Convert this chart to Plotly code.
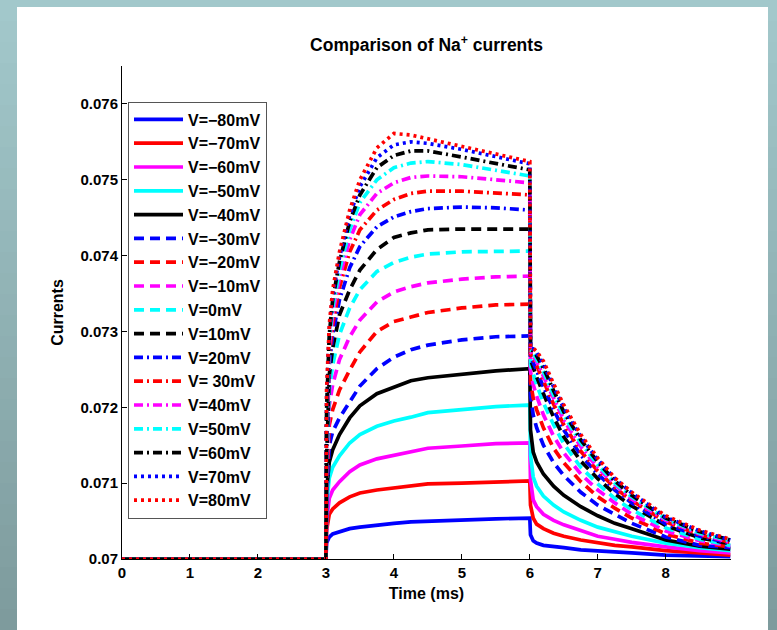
import plotly.graph_objects as go

# ---------------- data ----------------
time_ms = [0, 3.0, 3.01, 3.05, 3.1, 3.2, 3.35, 3.5, 3.75, 4.0, 4.25, 4.5, 5.0, 5.5, 6.0,
           6.01, 6.05, 6.1, 6.2, 6.35, 6.5, 6.75, 7.0, 7.25, 7.5, 8.0, 8.5, 8.95]

labels = ["V=\u221280mV", "V=\u221270mV", "V=\u221260mV", "V=\u221250mV", "V=\u221240mV",
          "V=\u221230mV", "V=\u221220mV", "V=\u221210mV", "V=0mV", "V=10mV",
          "V=20mV", "V= 30mV", "V=40mV", "V=50mV", "V=60mV", "V=70mV", "V=80mV"]

i_m80 = [0.07, 0.07, 0.07021, 0.07029, 0.07033, 0.07036, 0.0704, 0.07042, 0.07045, 0.07047, 0.07049, 0.0705, 0.07051, 0.07053, 0.07054,
         0.07032, 0.07024, 0.07021, 0.07018, 0.07016, 0.07015, 0.07012, 0.07011, 0.07009, 0.07008, 0.07005, 0.07004, 0.07003]
i_m70 = [0.07, 0.07, 0.07038, 0.07059, 0.07066, 0.07074, 0.07082, 0.07087, 0.07091, 0.07094, 0.07096, 0.07099, 0.071, 0.07102, 0.07103,
         0.07071, 0.07054, 0.07046, 0.0704, 0.07034, 0.0703, 0.07025, 0.07021, 0.07018, 0.07016, 0.07011, 0.07008, 0.07005]
i_m60 = [0.07, 0.07, 0.07051, 0.0708, 0.07091, 0.07102, 0.07115, 0.07124, 0.07132, 0.07137, 0.07142, 0.07146, 0.07149, 0.07152, 0.07153,
         0.07104, 0.07078, 0.07069, 0.07059, 0.07051, 0.07045, 0.07037, 0.0703, 0.07026, 0.07022, 0.07016, 0.07011, 0.07008]
i_m50 = [0.07, 0.07, 0.07071, 0.07107, 0.07121, 0.07136, 0.07153, 0.07164, 0.07175, 0.07182, 0.07187, 0.07193, 0.07197, 0.07201, 0.07203,
         0.07137, 0.07108, 0.07096, 0.07083, 0.07071, 0.07062, 0.07051, 0.07042, 0.07036, 0.0703, 0.07021, 0.07015, 0.07011]
i_m40 = [0.07, 0.07, 0.07091, 0.07128, 0.07144, 0.07164, 0.07186, 0.07202, 0.07218, 0.07227, 0.07235, 0.07239, 0.07244, 0.07248, 0.07251,
         0.0717, 0.07141, 0.07128, 0.07112, 0.07096, 0.07084, 0.07069, 0.07057, 0.07047, 0.0704, 0.07025, 0.07017, 0.07013]
i_m30 = [0.07, 0.07, 0.07078, 0.0715, 0.07168, 0.07186, 0.07207, 0.07228, 0.07251, 0.07266, 0.07276, 0.07282, 0.07289, 0.07293, 0.07294,
         0.07216, 0.0719, 0.07173, 0.0715, 0.07127, 0.0711, 0.07088, 0.07071, 0.07059, 0.07047, 0.07029, 0.07018, 0.07015]
i_m20 = [0.07, 0.07, 0.07091, 0.07177, 0.07197, 0.07223, 0.07249, 0.07273, 0.073, 0.07313, 0.07319, 0.07325, 0.07331, 0.07335, 0.07336,
         0.07234, 0.07212, 0.07197, 0.07173, 0.07146, 0.07127, 0.07102, 0.07082, 0.07067, 0.07054, 0.07033, 0.07021, 0.07016]
i_m10 = [0.07, 0.07, 0.07104, 0.07203, 0.0723, 0.07263, 0.07293, 0.07315, 0.07339, 0.07352, 0.07359, 0.07364, 0.07369, 0.07372, 0.07373,
         0.07247, 0.0723, 0.07215, 0.0719, 0.07162, 0.0714, 0.07112, 0.07091, 0.07074, 0.07059, 0.07037, 0.07024, 0.07017]
i_0 = [0.07, 0.07, 0.07117, 0.07223, 0.07256, 0.07296, 0.07331, 0.07355, 0.07379, 0.07391, 0.07398, 0.07402, 0.07405, 0.07406, 0.07406,
       0.07256, 0.07243, 0.0723, 0.07206, 0.07177, 0.07152, 0.07121, 0.07099, 0.0708, 0.07065, 0.07041, 0.07026, 0.07018]
i_10 = [0.07, 0.07, 0.07131, 0.07243, 0.07278, 0.07322, 0.07355, 0.07381, 0.07408, 0.07424, 0.0743, 0.07434, 0.07435, 0.07435, 0.07435,
        0.07263, 0.07252, 0.0724, 0.07218, 0.07187, 0.07161, 0.07129, 0.07106, 0.07086, 0.0707, 0.07044, 0.07028, 0.0702]
i_20 = [0.07, 0.07, 0.07144, 0.07256, 0.07296, 0.07342, 0.07384, 0.07412, 0.07438, 0.07451, 0.07458, 0.07462, 0.07464, 0.07463, 0.0746,
        0.07266, 0.07259, 0.07248, 0.07227, 0.07197, 0.0717, 0.07137, 0.07112, 0.07091, 0.07074, 0.07046, 0.0703, 0.07021]
i_30 = [0.07, 0.07, 0.07157, 0.07269, 0.07309, 0.07358, 0.07405, 0.07434, 0.0746, 0.07474, 0.07482, 0.07485, 0.07485, 0.07483, 0.0748,
        0.0727, 0.07264, 0.07255, 0.07235, 0.07204, 0.07177, 0.07142, 0.07116, 0.07094, 0.07077, 0.07049, 0.07032, 0.07022]
i_40 = [0.07, 0.07, 0.0717, 0.07282, 0.07322, 0.07371, 0.07421, 0.07454, 0.07482, 0.07496, 0.07503, 0.07505, 0.07504, 0.075, 0.07496,
        0.07273, 0.07268, 0.0726, 0.07241, 0.07211, 0.07183, 0.07148, 0.0712, 0.07098, 0.07079, 0.07051, 0.07033, 0.07022]
i_50 = [0.07, 0.07, 0.07183, 0.07289, 0.07331, 0.07381, 0.07434, 0.0747, 0.075, 0.07516, 0.07522, 0.07524, 0.0752, 0.07513, 0.07505,
        0.07276, 0.07272, 0.07264, 0.07247, 0.07216, 0.07189, 0.07153, 0.07124, 0.071, 0.07082, 0.07053, 0.07034, 0.07024]
i_60 = [0.07, 0.07, 0.07197, 0.07296, 0.07342, 0.07392, 0.07445, 0.0748, 0.07516, 0.07532, 0.07538, 0.07538, 0.0753, 0.07522, 0.07513,
        0.07277, 0.07274, 0.07268, 0.07252, 0.07222, 0.07194, 0.07157, 0.07128, 0.07103, 0.07084, 0.07054, 0.07036, 0.07025]
i_70 = [0.07, 0.07, 0.0721, 0.07302, 0.07348, 0.07398, 0.07453, 0.07491, 0.07529, 0.07546, 0.0755, 0.07548, 0.0754, 0.0753, 0.07521,
        0.07278, 0.07277, 0.07272, 0.07257, 0.07227, 0.07199, 0.07161, 0.07131, 0.07106, 0.07087, 0.07055, 0.07037, 0.07025]
i_80 = [0.07, 0.07, 0.07223, 0.07309, 0.07355, 0.07405, 0.0746, 0.075, 0.07542, 0.07561, 0.07559, 0.07554, 0.07544, 0.07533, 0.07524,
        0.0728, 0.07278, 0.07274, 0.07261, 0.07231, 0.07203, 0.07164, 0.07133, 0.07107, 0.07088, 0.07057, 0.07038, 0.07026]

series = [i_m80, i_m70, i_m60, i_m50, i_m40, i_m30, i_m20, i_m10, i_0, i_10,
          i_20, i_30, i_40, i_50, i_60, i_70, i_80]

x_ticks = [0, 1, 2, 3, 4, 5, 6, 7, 8]
y_ticks = [0.070, 0.071, 0.072, 0.073, 0.074, 0.075, 0.076]
y_ticktext = ["0.07", "0.071", "0.072", "0.073", "0.074", "0.075", "0.076"]

# ---------------- styling ----------------
W, H = 777, 630
L, R, T, B = 122, 46, 66, 71
PW, PH = W - L - R, H - T - B

def px2x(px):
    return (px - L) / PW

def py2y(py):
    return (H - B - py) / PH

palette = ["#0000ff", "#ff0000", "#ff00ff", "#00ffff", "#000000"]
dash_styles = ["solid"] * 5 + ["10px,6px"] * 5 + ["9px,4px,2px,4px"] * 5 + ["3px,4px"] * 2

FONT = "Liberation Sans, Arial, Helvetica, sans-serif"

fig = go.Figure()
for k, (name, vals) in enumerate(zip(labels, series)):
    fig.add_trace(go.Scatter(
        x=time_ms, y=vals, mode="lines", name=name,
        line=dict(color=palette[k % 5], width=3.7, dash=dash_styles[k]),
    ))

# background: teal gradient frame + white panel
shapes = []
top = (162, 200, 203)
bot = (126, 155, 157)
nb = 30
for i in range(nb):
    f = i / (nb - 1)
    c = tuple(int(round(top[j] + (bot[j] - top[j]) * f)) for j in range(3))
    y0 = H * i / nb
    y1 = H * (i + 1) / nb + 1
    shapes.append(dict(type="rect", xref="paper", yref="paper", layer="below",
                       x0=px2x(0), x1=px2x(W), y0=py2y(y1), y1=py2y(y0),
                       fillcolor="rgb(%d,%d,%d)" % c, line=dict(width=0)))
shapes.append(dict(type="rect", xref="paper", yref="paper", layer="below",
                   x0=px2x(17), x1=px2x(768), y0=py2y(H + 2), y1=py2y(7),
                   fillcolor="white", line=dict(width=0)))

fig.update_layout(
    width=W, height=H,
    margin=dict(l=L, r=R, t=T, b=B, pad=0),
    paper_bgcolor="rgb(%d,%d,%d)" % top,
    plot_bgcolor="rgba(0,0,0,0)",
    shapes=shapes,
    font=dict(family=FONT, color="black"),
    title=dict(text="Comparison of Na<sup>+</sup> currents",
               font=dict(family=FONT, size=17.5, weight="bold", color="black"),
               x=0.5, xref="paper", xanchor="center",
               y=1 - 45 / H, yref="container", yanchor="middle"),
    xaxis=dict(range=[0, 8.96], tickvals=x_ticks, ticks="inside", ticklen=5,
               tickcolor="black", showline=True, linecolor="black", linewidth=1,
               showgrid=False, zeroline=False,
               tickfont=dict(family=FONT, size=15, weight="bold", color="black"),
               title=dict(text="Time (ms)", standoff=7,
                          font=dict(family=FONT, size=16, weight="bold", color="black"))),
    yaxis=dict(range=[0.07, 0.0765], tickvals=y_ticks, ticktext=y_ticktext,
               ticks="inside", ticklen=5, tickcolor="black", showline=True,
               linecolor="black", linewidth=1, showgrid=False, zeroline=False,
               tickfont=dict(family=FONT, size=15, weight="bold", color="black"),
               title=dict(text="Currents", standoff=12,
                          font=dict(family=FONT, size=16, weight="bold", color="black"))),
    legend=dict(x=px2x(128), y=py2y(101.5), xanchor="left", yanchor="top",
                bgcolor="white", bordercolor="#555555", borderwidth=1,
                itemwidth=49,
                font=dict(family=FONT, size=16, weight="bold", color="black")),
    showlegend=True,
)

fig.write_html("out.html", config={"displayModeBar": False},
               post_script="document.body.style.margin='0px';")
